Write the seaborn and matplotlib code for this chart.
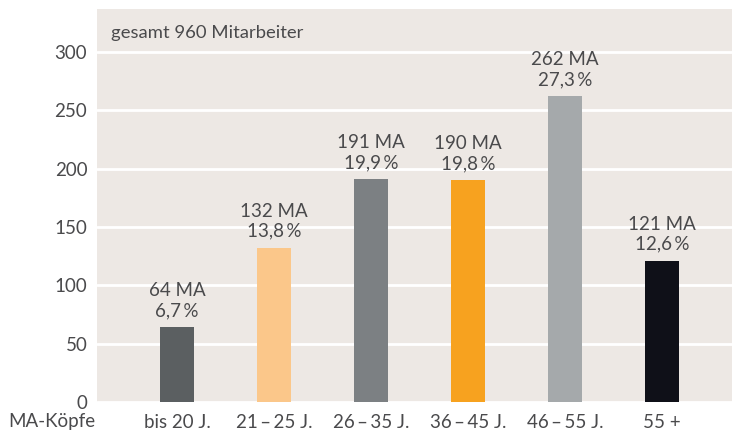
import matplotlib
matplotlib.use("Agg")
import matplotlib.pyplot as plt
import seaborn as sns
import pandas as pd

categories = ["bis 20 J.", "21\u2009\u2013\u200925 J.", "26\u2009\u2013\u200935 J.",
              "36\u2009\u2013\u200945 J.", "46\u2009\u2013\u200955 J.", "55 +"]
counts = [64, 132, 191, 190, 262, 121]
percents = ["6,7", "13,8", "19,9", "19,8", "27,3", "12,6"]
colors = ["#5b5f61", "#fbc78a", "#7c8083", "#f7a21f", "#a5a9ab", "#0f1018"]
yticks = [0, 50, 100, 150, 200, 250, 300]
title_text = "gesamt 960 Mitarbeiter"
row_label = "MA-Köpfe"

sns.set_theme(style="white")
plt.rcParams['font.family'] = ['Lato', 'DejaVu Sans']
txt = "#4a4a4c"
bg = "#ede8e4"

df = pd.DataFrame({"cat": categories, "n": counts})

fig = plt.figure(figsize=(7.32, 4.32), dpi=100)
ax = fig.add_axes([97/732, 30/432, 1 - 97/732, (402-9)/432])
ax.set_facecolor(bg)
sns.barplot(data=df, x="cat", y="n", hue="cat", palette=colors, legend=False,
            width=0.35, ax=ax, saturation=1, zorder=3, linewidth=0)
ax.set_ylim(0, 337)
ax.set_xlim(-0.825, 5.72)
ax.set_yticks(yticks)
ax.yaxis.grid(True, color="white", linewidth=2, zorder=0)
ax.set_axisbelow(True)
for s in ax.spines.values():
    s.set_visible(False)
ax.set_xlabel("")
ax.set_ylabel("")
ax.tick_params(axis="both", length=0, labelsize=13.5, labelcolor=txt)
ax.tick_params(axis="y", pad=7)
ax.tick_params(axis="x", pad=9)

for i, (c, p) in enumerate(zip(counts, percents)):
    ax.annotate(f"{c} MA\n{p}\u2009%", xy=(i, c), xytext=(0, 6),
                textcoords="offset points", ha="center", va="bottom",
                fontsize=13.5, color=txt, linespacing=1.2)

ax.text(0.022, 0.96, title_text, transform=ax.transAxes, ha="left", va="top",
        fontsize=13.3, color=txt)
fig.text(8/732, 1 - 421/432, row_label, ha="left", va="center",
         fontsize=13.5, color=txt)

fig.savefig("out.png", dpi=100)
